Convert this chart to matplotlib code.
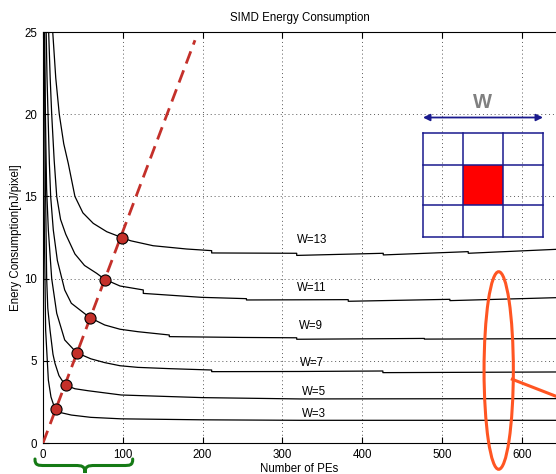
import numpy as np
import matplotlib
matplotlib.use("Agg")
import matplotlib.pyplot as plt
from matplotlib.patches import Ellipse, Rectangle, PathPatch
from matplotlib.path import Path
from matplotlib.lines import Line2D

plt.rcParams['font.family'] = ['Liberation Sans', 'DejaVu Sans']
plt.rcParams['font.size'] = 8.3

# energy curves (x = number of PEs, y = nJ/pixel)
w3_x = [0.5, 1.0, 1.7, 3.3, 6.7, 10, 15.0, 22, 35.5, 60, 98, 200, 322, 643]
w3_y = [25.0, 18.0, 12.96, 6.87, 3.83, 2.8, 2.07, 1.85, 1.70, 1.56, 1.47, 1.41, 1.38, 1.38]

w5_x = [1.5, 2.5, 3.8, 4.6, 6.0, 8.8, 12.5, 15.0, 20, 27.6, 40, 56.4, 98, 200, 322, 643]
w5_y = [25, 18.5, 12.96, 10.0, 8.2, 6.87, 5.4, 4.85, 4.1, 3.53, 3.3, 3.18, 2.92, 2.76, 2.68, 2.70]

w7_x = [2.1, 3.0, 4.5, 6.7, 10.9, 17.2, 27.2, 42.2, 60, 77.3, 96.5, 119, 160, 211.4, 211.4, 322, 426, 426, 643]
w7_y = [25, 20, 15.5, 12.96, 10, 7.89, 6.27, 5.49, 5.12, 4.89, 4.70, 4.60, 4.52, 4.44, 4.34, 4.35, 4.38, 4.28, 4.32]

w9_x = [4.0, 5.0, 6.3, 8.0, 9.6, 12.9, 18, 27.2, 35.5, 58.9, 77.3, 96.5, 119, 158.3, 158.3, 250, 318, 318, 478, 478, 643]
w9_y = [25, 22.3, 20, 17, 15, 12.96, 11.1, 9.31, 8.5, 7.62, 7.18, 6.92, 6.77, 6.57, 6.47, 6.42, 6.40, 6.31, 6.36, 6.32, 6.35]

w11_x = [7.1, 9.0, 10.9, 14, 17.2, 22, 28.5, 40, 52, 67.3, 77.3, 96.5, 125.7, 125.7, 198.8, 255, 255, 382.6, 382.6, 510, 510, 643]
w11_y = [25, 22.2, 20, 17.2, 15, 13.6, 12.7, 11.5, 10.8, 10.32, 9.96, 9.55, 9.31, 9.10, 8.86, 8.78, 8.70, 8.72, 8.62, 8.74, 8.66, 8.84]

w13_x = [12.2, 16, 20.4, 26, 31.7, 40, 50, 63, 80, 98.6, 110, 138, 180, 211.4, 211.4, 318, 318, 426.5, 426.5, 533, 533, 643]
w13_y = [25, 22.2, 20, 18.2, 17, 15, 14.0, 13.36, 12.85, 12.5, 12.3, 12.0, 11.8, 11.70, 11.56, 11.54, 11.41, 11.54, 11.44, 11.64, 11.54, 11.78]

curves = [(w3_x, w3_y), (w5_x, w5_y), (w7_x, w7_y), (w9_x, w9_y), (w11_x, w11_y), (w13_x, w13_y)]
labels = ['W=3', 'W=5', 'W=7', 'W=9', 'W=11', 'W=13']
label_x = [325, 324, 322, 321, 318, 318]
label_y = [1.76, 3.1, 4.87, 7.12, 9.43, 12.35]

# optimum points and the line through them
dot_x = [15.9, 28.4, 42.4, 59.0, 77.1, 98.6]
dot_y = [2.06, 3.51, 5.47, 7.61, 9.93, 12.5]
line_x = [0, 190.5]
line_y = [0, 24.5]

W, H = 556, 474
fig = plt.figure(figsize=(W / 100, H / 100), dpi=100)
ax = fig.add_axes([43 / W, (H - 443) / H, (W - 43) / W, 411 / H])

for (cx, cy) in curves:
    ax.plot(cx, cy, color='black', lw=0.9, zorder=3)

ax.plot(line_x, line_y, color='#c4302a', lw=2.0, linestyle=(0, (4.7, 2.6)), zorder=4)
ax.plot(dot_x, dot_y, 'o', ms=8, mfc='#c4302a', mec='black', mew=0.8, zorder=5)

for t, lx, ly in zip(labels, label_x, label_y):
    ax.text(lx, ly, t, ha='left', va='center', fontsize=8.3)

ax.set_xlim(0, 643)
ax.set_ylim(0, 25)
ax.set_xticks(np.arange(0, 700, 100))
ax.set_yticks(np.arange(0, 30, 5))
ax.spines['right'].set_visible(False)
ax.tick_params(direction='in', top=True, right=False, length=4, pad=4, labelsize=8.3)
ax.grid(True, linestyle=(0, (1, 3)), color='0.35', lw=0.7)
ax.set_title('SIMD Energy Consumption', fontsize=8.3, pad=8)
ax.set_xlabel('Number of PEs', labelpad=1.5)
ax.set_ylabel('Enery Consumption[nJ/pixel]', labelpad=2)


def fpx(x, y):
    return (x / W, 1 - y / H)


# window diagram
ins = fig.add_axes([422.7 / W, (H - 237.3) / H, 120.6 / W, 104.6 / H])
ins.set_xlim(0, 3)
ins.set_ylim(0, 2.6)
ins.axis('off')
navy = '#1a1a8e'
ins.add_patch(Rectangle((1, 0.8), 1, 1, facecolor='#ff0000', edgecolor='none'))
for xv in [0, 1, 2, 3]:
    ins.plot([xv, xv], [0, 2.6], color=navy, lw=1.1, clip_on=False)
for yv in [0, 0.8, 1.8, 2.6]:
    ins.plot([0, 3], [yv, yv], color=navy, lw=1.1, clip_on=False)

fig.add_artist(matplotlib.patches.FancyArrowPatch(
    fpx(423, 117.5), fpx(543, 117.5), transform=fig.transFigure,
    arrowstyle='<|-|>', mutation_scale=10, color=navy, lw=1.3, shrinkA=0, shrinkB=0))
fig.text(482 / W, 1 - 103 / H, 'W', fontsize=14.5, fontweight='bold', color='0.5',
         ha='center', va='center')

# orange highlight
orange = '#ff5522'
fig.add_artist(Ellipse(fpx(498.7, 370.5), 29.3 / W, 197.6 / H, transform=fig.transFigure,
                       fill=False, edgecolor=orange, lw=2.2))
x0, y0 = fpx(512.3, 379.3)
x1, y1 = fpx(570, 401.7)
fig.add_artist(Line2D([x0, x1], [y0, y1], transform=fig.transFigure, color=orange, lw=2.2))

# green brace under the x axis
pts = [(35, 459), (35, 465.5), (38, 465.5), (45, 465.5), (75, 465.5),
       (82, 465.5), (85, 466), (85, 473),
       (85, 466), (88, 465.5), (95, 465.5), (123, 465.5),
       (130, 465.5), (132.7, 465.5), (132.7, 459)]
codes = [Path.MOVETO, Path.CURVE4, Path.CURVE4, Path.CURVE4, Path.LINETO,
         Path.CURVE4, Path.CURVE4, Path.CURVE4,
         Path.CURVE4, Path.CURVE4, Path.CURVE4, Path.LINETO,
         Path.CURVE4, Path.CURVE4, Path.CURVE4]
brace = Path([fpx(x, y) for x, y in pts], codes)
fig.add_artist(PathPatch(brace, transform=fig.transFigure, fill=False,
                         edgecolor='#157a15', lw=2.2, capstyle='round'))

fig.savefig('out.png', dpi=100)
